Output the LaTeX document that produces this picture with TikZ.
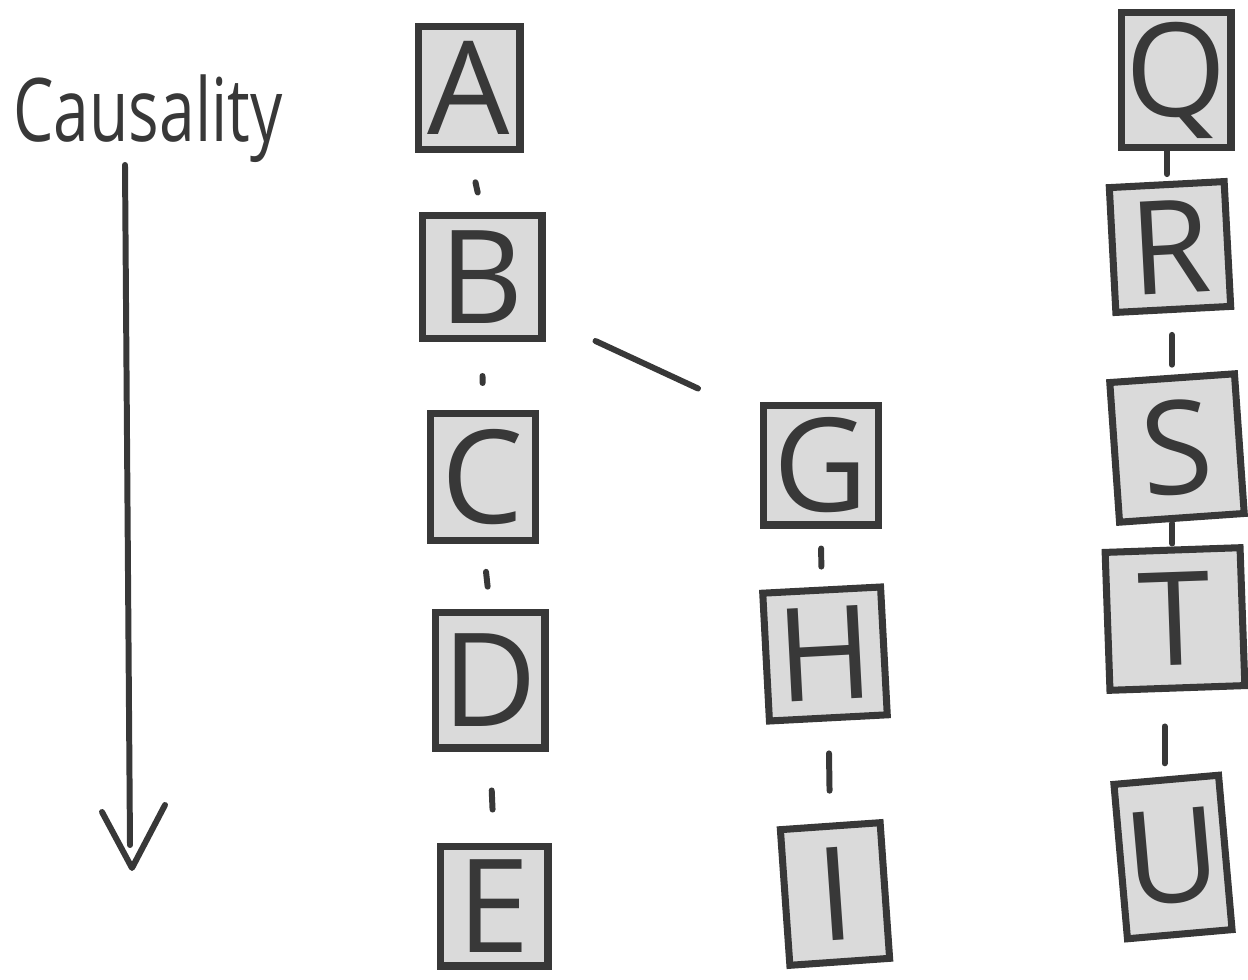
\documentclass[tikz,border=0pt]{standalone}
\usepackage{fontspec}
\setmainfont{Open Sans}
\usetikzlibrary{calc}
\definecolor{ink}{HTML}{383838}
\definecolor{boxfill}{HTML}{DADADA}
\begin{document}
\begin{tikzpicture}[x=0.02cm,y=-0.02cm,
  box/.style={draw=ink, fill=boxfill, line width=4pt, text=ink, inner sep=0pt,
    font=\fontsize{74}{74}\selectfont},
  conn/.style={draw=ink, line width=3.4pt, line cap=round},
  hand/.style={text=ink, inner sep=0pt, font=\fontsize{50}{50}\selectfont}]
\useasboundingbox[fill=white] (0,0) rectangle (1248,980);

% Causality label and arrow
\node[hand] (cause) at (148,119) {\scalebox{0.73}[1]{Causality}};
\coordinate (atop) at (125,165);
\coordinate (aend) at (130,845);
\coordinate (atip) at (132,868);
\coordinate (aleft) at (102,812);
\coordinate (aright) at (165,805);
\draw[conn] (atop) -- (aend);
\draw[conn, line join=round] (aleft) -- (atip) -- (aright);

% first column
\node[box, minimum width=2.04cm, minimum height=2.46cm] (A) at (469,88) {A};
\node[box, minimum width=2.40cm, minimum height=2.46cm] (B) at (482,277) {B};
\node[box, minimum width=2.10cm, minimum height=2.54cm] (C) at (483,477) {C};
\node[box, minimum width=2.20cm, minimum height=2.72cm] (D) at (490,680) {D};
\node[box, minimum width=2.16cm, minimum height=2.40cm] (E) at (494,906) {E};

% second column
\node[box, minimum width=2.30cm, minimum height=2.40cm] (G) at (821,465) {G};
\node[box, minimum width=2.36cm, minimum height=2.56cm, rotate=3] (H) at (825,654) {H};
\node[box, minimum width=2.00cm, minimum height=2.72cm, rotate=4] (I) at (835,894) {I};

% third column
\node[box, minimum width=2.20cm, minimum height=2.70cm] (Q) at (1176,80) {Q};
\node[box, minimum width=2.30cm, minimum height=2.50cm, rotate=3] (R) at (1170,247) {R};
\node[box, minimum width=2.50cm, minimum height=2.80cm, rotate=4] (S) at (1177,448) {S};
\node[box, minimum width=2.70cm, minimum height=2.76cm, rotate=2] (T) at (1175,619) {T};
\node[box, minimum width=2.10cm, minimum height=3.10cm, rotate=5] (U) at (1173,857) {U};

% connectors
\draw[conn, shorten <=0.6cm, shorten >=0.4cm] (A.south) -- (B.north);
\draw[conn, shorten <=0.68cm, shorten >=0.54cm] (B.south) -- (C.north);
\draw[conn, shorten <=0.56cm, shorten >=0.44cm] (C.south) -- (D.north);
\draw[conn, shorten <=0.78cm, shorten >=0.66cm] (D.south) -- (E.north);
\draw[conn] ($(B.south east)+(50,-1)$) -- ($(G.north west)+(-62,-13)$);
\draw[conn, shorten <=0.4cm, shorten >=0.4cm] (G.south) -- (H.north);
\draw[conn, shorten <=0.64cm, shorten >=0.64cm] (H.south) -- (I.north);
\draw[conn] ([xshift=-0.18cm]Q.south) -- ([xshift=-0.18cm, yshift=0.14cm]Q.south |- R.north);
\draw[conn] ([yshift=-0.44cm]R.south -| S.north) -- ([yshift=0.2cm]S.north);
\draw[conn] ([yshift=-0.04cm]T.north |- S.south) -- ([yshift=0.06cm]T.north);
\draw[conn] ([xshift=-0.26cm, yshift=-0.7cm]T.south) -- ([xshift=-0.26cm, yshift=0.26cm]T.south |- U.north);
\end{tikzpicture}
\end{document}
